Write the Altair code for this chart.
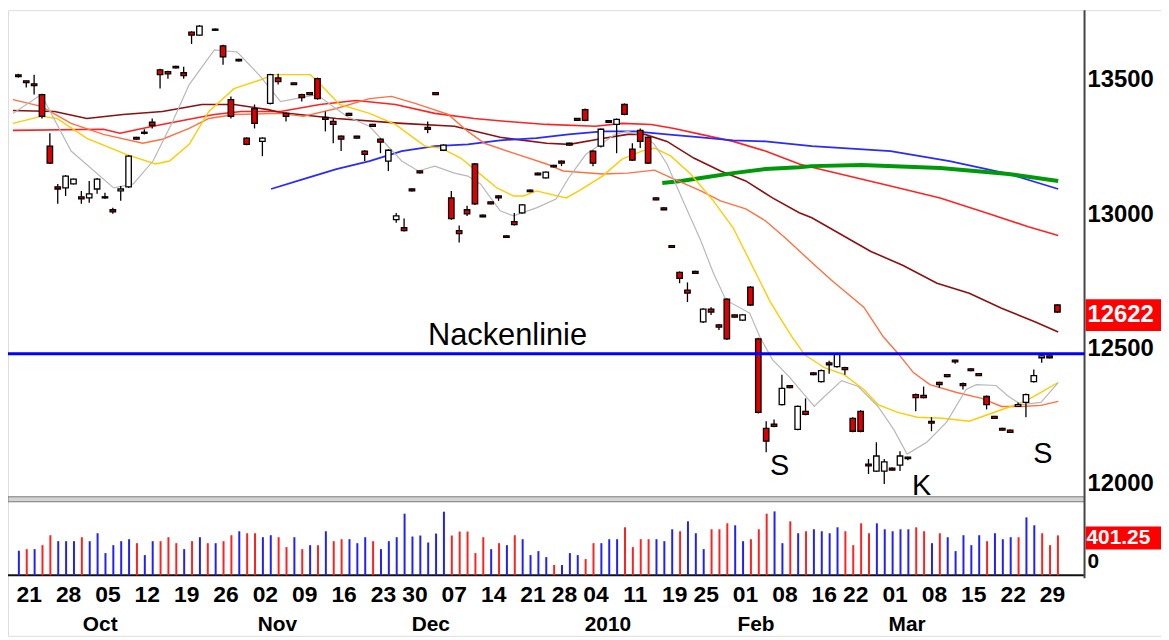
import altair as alt
import pandas as pd

# ---------------- data ----------------
opens = [13520,13498,13487,13447,13255,13104,13100,13115,13067,13063,13096,13067,13019,13089,13104,13288,13303,13344,13539,13532,
         13552,13528,13679,13668,None,13690,13628,13428,13578,13285,13395,13273,13414,13509,13377,13490,13447,13454,13506,13362,
         13347,13292,13377,13292,13237,13336,13281,13200,12982,12952,13096,13163,13325,13454,13240,13063,12941,13019,13189,12999,
         13048,13070,12922,12975,13007,13092,13155,13137,13184,13200,13266,13358,13391,13237,13255,13350,13336,13410,13244,13314,
         13288,13063,13026,12886,12786,12720,12790,12602,12650,12591,12687,12628,12609,12731,12539,12207,12222,12295,12365,12203,
         12270,12413,12380,12450,12436,12432,12244,12270,12074,12048,12048,12059,12070,12100,12332,12329,12233,12377,12406,12460,
         12373,12428,12410,12325,12251,12207,12200,12288,12303,12380,12469,12476,12665]
highs = [13524,13498,13521,13450,13303,13115,13148,13135,13089,13126,13137,13082,13026,13107,13222,13290,13318,13358,13543,13535,
         13554,13550,13682,13705,None,13692,13632,13440,13580,13288,13410,13288,13524,13524,13380,13492,13450,13456,13510,13384,
         13358,13295,13379,13294,13240,13338,13284,13244,13007,12986,13098,13165,13347,13456,13262,13089,12960,13034,13192,13001,
         13050,13072,12924,13007,13040,13094,13157,13161,13186,13202,13268,13360,13395,13240,13321,13352,13358,13414,13266,13321,
         13292,13065,13028,12888,12790,12749,12792,12653,12657,12594,12690,12630,12631,12735,12543,12233,12240,12406,12367,12292,
         12318,12415,12425,12458,12488,12436,12248,12274,12093,12155,12093,12061,12122,12101,12336,12362,12248,12380,12408,12462,
         12377,12430,12412,12329,12253,12209,12202,12303,12336,12425,12480,12478,12668]
lows = [13510,13473,13447,13358,13189,13041,13070,13113,13041,13045,13078,13060,13004,13052,13100,13279,13299,13321,13469,13506,
        13544,13506,13635,13666,None,13684,13558,13358,13570,13259,13321,13218,13410,13484,13347,13482,13421,13445,13428,13310,
        13266,13237,13368,13283,13200,13327,13229,13163,12971,12938,13087,13154,13303,13445,13237,12982,12897,12996,13037,12991,
        13039,13052,12914,12960,13004,13084,13147,13135,13176,13181,13257,13349,13348,13181,13250,13342,13229,13370,13200,13248,
        13189,13054,13017,12877,12746,12676,12781,12598,12628,12572,12535,12618,12606,12661,12262,12118,12211,12292,12356,12200,
        12255,12404,12377,12410,12432,12406,12192,12192,12037,12045,12000,12050,12048,12088,12270,12318,12196,12358,12397,12447,
        12351,12419,12401,12277,12242,12198,12190,12286,12248,12377,12450,12467,12635]
closes = [13514,13491,13480,13366,13192,13096,13144,13133,13059,13078,13133,13063,13011,13096,13218,13281,13307,13332,13521,13524,
          13546,13517,13668,13701,None,13686,13587,13366,13572,13262,13340,13285,13521,13495,13366,13484,13436,13447,13432,13355,
          13336,13281,13370,13285,13225,13329,13270,13240,12996,12941,13089,13156,13318,13447,13259,12986,12930,13004,13041,12993,
          13041,13063,12916,12964,13037,13086,13149,13159,13178,13192,13259,13351,13351,13192,13318,13344,13355,13373,13203,13273,
          13192,13056,13019,12879,12764,12709,12783,12650,12639,12583,12539,12620,12628,12665,12266,12159,12214,12355,12358,12288,
          12259,12406,12421,12443,12484,12425,12196,12196,12067,12104,12082,12052,12104,12094,12321,12321,12226,12369,12399,12454,
          12366,12421,12403,12295,12244,12200,12192,12295,12332,12403,12476,12469,12639]
volumes = [247,263,263,303,403,343,343,343,383,343,423,223,303,343,363,323,203,343,343,383,
           323,263,343,383,323,323,343,403,443,423,423,383,403,383,283,383,263,303,303,443,
           343,363,363,323,383,343,263,343,383,620,390,400,330,420,640,400,440,440,223,383,
           263,323,303,403,363,203,243,183,103,103,223,203,163,323,323,363,363,483,283,363,
           363,363,343,463,443,543,423,263,463,463,523,503,343,363,463,620,643,323,543,423,
           443,463,443,423,483,443,303,523,423,523,463,443,463,463,483,443,323,423,383,243,
           403,303,403,343,423,363,383,383,583,503,423,303,401.25]
vol_colors = list("BRBRRBBBRB" "BBBBBRBBRR" "RBRBRBRRBR" "RBBRRBRBRB" "RRBBBRBBBB"
                  "BBBBBRRRRR" "BRBRBBBBRB" "BBRRBBBRRR" "RBBBRBBBRR" "RBBRRRBBRB"
                  "RBBBBRRRRB" "BBBBRRBRBB" "BBBRBBBRBB" "RRR")

# moving averages (bar index, value)
gray_i = [-0.69,2.9,6.7,12.1,14.6,17.1,19.6,21.7,24.9,27.8,30.8,33.3,37.9,41.7,44.6,48.7,50.8,52.9,55.4,57.1,58.7,61.2,62.9,
          65.8,68.3,69.9,72.1,74.2,75.8,77.4,79.6,80.8,82.4,84.6,86.7,88.3,89.9,92.9,94.2,95.8,97.9,99.6,101.1,102.4,104.6,
          106.7,109.2,111.2,112.9,115.4,117.9,120.4,121.7,124.2,125.8,127.4,129.9,132.1]
gray_v = [13377,13447,13237,13100,13115,13200,13347,13484,13613,13605,13513,13421,13447,13366,13329,13200,13163,13181,13155,13144,
          13115,13015,12996,13026,13059,13137,13225,13266,13299,13310,13292,13262,13189,13041,12904,12783,12683,12635,12546,12462,
          12399,12340,12288,12325,12384,12362,12288,12203,12111,12155,12229,12351,12369,12366,12325,12295,12303,12377]
yel_i = [-0.69,2.9,4.9,8.7,13.7,17.4,19.2,21.7,24.2,27.4,30.8,32.4,37.1,38.3,40.8,44.6,47.9,49.6,51.7,53.7,56.2,57.9,60.8,62.9,
         64.2,65.8,69.6,71.2,74.2,76.7,79.2,80.8,82.9,85.4,88.3,90.8,93.7,95.4,96.7,98.3,99.9,102.4,104.9,107.4,109.2,111.7,
         114.2,117.4,120.8,123.3,125.8,127.9,129.9,132.1]
yel_v = [13340,13366,13358,13284,13225,13189,13200,13262,13384,13469,13502,13521,13521,13487,13410,13377,13336,13299,13255,13248,
         13211,13170,13100,13070,13070,13089,13063,13089,13144,13207,13237,13248,13218,13152,13052,12952,12783,12683,12620,12546,
         12480,12432,12406,12351,12295,12266,12248,12244,12233,12259,12285,12307,12340,12377]
org_i = [-0.69,2.9,6.7,10.8,15.8,18.3,21.7,24.2,27.4,33.3,36.2,40.4,44.6,47.4,50.4,54.6,57.1,59.2,62.9,67.1,69.2,74.2,77.4,
         80.8,83.3,86.7,89.2,92.4,94.9,97.4,100.8,103.3,107.4,109.9,111.7,113.7,115.8,119.2,122.4,124.9,127.4,129.9,132.1]
org_v = [13428,13403,13340,13299,13266,13281,13321,13358,13373,13377,13366,13395,13432,13440,13414,13373,13310,13266,13229,13189,
         13163,13152,13155,13166,13133,13089,13052,13022,12978,12915,12823,12757,12657,12546,12487,12414,12369,12340,12318,12288,
         12288,12292,12307]
red_i = [-0.69,10.8,12.9,17.1,21.7,24.9,28.3,33.3,38.3,42.9,47.9,52.9,57.9,62.1,67.1,73.3,76.7,80.4,83.3,86.7,90.8,94.9,99.2,
         100.8,110.8,117.1,123.3,128.3,132.1]
red_v = [13314,13318,13303,13329,13355,13373,13384,13384,13410,13425,13410,13377,13358,13347,13336,13329,13340,13336,13321,13299,
         13273,13237,13189,13177,13107,13063,13004,12956,12923]
brn_i = [-0.69,4.6,8.7,13.3,18.3,23.3,27.4,31.7,33.3,40.4,48.7,55.4,61.2,67.1,70.0,74.2,77.4,79.6,82.4,85.8,89.2,92.4,95.8,
         99.2,100.8,108.3,112.4,116.7,120.8,124.9,129.2,132.1]
brn_v = [13388,13384,13358,13373,13384,13410,13410,13391,13380,13358,13340,13329,13288,13266,13262,13284,13299,13299,13273,13211,
         13163,13126,13063,13008,12989,12864,12812,12746,12709,12653,12602,12565]
blu_i = [32.1,36.2,40.4,44.6,48.7,52.9,57.1,61.2,65.8,69.9,74.2,78.3,82.4,86.7,90.8,94.9,100.8,110.8,118.3,125.8,132.1]
blu_v = [13096,13133,13170,13200,13237,13255,13262,13277,13285,13299,13310,13310,13299,13288,13277,13273,13255,13237,13200,13152,
         13096]
grn_i = [81.8,84.2,86.7,90.8,94.9,99.2,100.8,107.1,117.1,125.8,132.1]
grn_v = [13118,13126,13137,13155,13170,13177,13181,13185,13174,13152,13126]

neckline = 12484
price_ticks = [13500, 13000, 12500, 12000]
last_close = "12622"
last_volume = "401.25"
week_idx = [1,6,11,16,21,26,31,36,41,46,50,55,60,65,69,73,78,83,87,92,97,102,106,111,116,121,126,131]
week_lbl = ['21','28','05','12','19','26','02','09','16','23','30','07','14','21','28','04',
            '11','19','25','01','08','16','22','01','08','15','22','29']
month_idx = [10.4, 32.9, 52.4, 74.9, 93.7, 112.9]
month_lbl = ['Oct', 'Nov', 'Dec', '2010', 'Feb', 'Mar']

# ---------------- chart ----------------
NUMFONT = "Liberation Sans, Arial, sans-serif"
TXTFONT = "Liberation Sans, Arial, sans-serif"
PW = 1084
XS = alt.Scale(domain=[-0.6875, 134.8125], range=[0, PW])
PS = alt.Scale(domain=[11952.4, 13760.5], range=[490, 0])
VS = alt.Scale(domain=[0, 720], range=[569, 497])

one = pd.DataFrame({'a': [0]})
n = len(volumes)
cdf = pd.DataFrame({'i': list(range(n)), 'o': opens, 'h': highs, 'l': lows, 'c': closes})
cdf = cdf.dropna()
cdf['dir'] = ['down' if c < o else 'up' for o, c in zip(cdf['o'], cdf['c'])]
vdf = pd.DataFrame({'i': list(range(n)), 'v': volumes, 'col': vol_colors[:n]})

X = alt.X('i:Q', scale=XS, axis=None)

layers = []
# panel separator and frame
layers.append(alt.Chart(one).mark_rect(fill='#d4d4d4', stroke='#7a7a7a', strokeWidth=1).encode(
    x=alt.value(0), x2=alt.value(PW), y=alt.value(490), y2=alt.value(495)))
layers.append(alt.Chart(one).mark_rule(color='#111111', strokeWidth=2).encode(
    x=alt.value(0), x2=alt.value(PW), y=alt.value(569)))
layers.append(alt.Chart(one).mark_rule(color='#444444', strokeWidth=2).encode(
    x=alt.value(PW), y=alt.value(0), y2=alt.value(572)))

# moving averages
ma_specs = [
    (red_i, red_v, '#ff2222', 1.6),
    (brn_i, brn_v, '#8b1010', 1.6),
    (blu_i, blu_v, '#2a2aff', 1.8),
    (grn_i, grn_v, '#00990a', 4),
    (org_i, org_v, '#ff7040', 1.4),
    (yel_i, yel_v, '#ffcc00', 1.4),
    (gray_i, gray_v, '#b8b8b8', 1.2),
]
for ii, vv, colr, sw in ma_specs:
    mdf = pd.DataFrame({'i': ii, 'p': vv})
    layers.append(alt.Chart(mdf).mark_line(color=colr, strokeWidth=sw).encode(
        x=X, y=alt.Y('p:Q', scale=PS, axis=None)))

# candles
layers.append(alt.Chart(cdf).mark_rule(color='black', strokeWidth=1.3).encode(
    x=X, y=alt.Y('l:Q', scale=PS, axis=None), y2='h:Q'))
layers.append(alt.Chart(cdf).mark_bar(size=5.5, stroke='black', strokeWidth=1.3).encode(
    x=X, y=alt.Y('o:Q', scale=PS, axis=None), y2='c:Q',
    fill=alt.Fill('dir:N', scale=alt.Scale(domain=['up', 'down'], range=['#ffffff', '#dd0000']), legend=None)))

# neckline
layers.append(alt.Chart(pd.DataFrame({'p': [neckline]})).mark_rule(color='#0000ff', strokeWidth=3).encode(
    y=alt.Y('p:Q', scale=PS, axis=None), x=alt.value(0), x2=alt.value(PW)))

# volume
layers.append(alt.Chart(vdf).mark_bar(size=2, xOffset=0.5).encode(
    x=X, y=alt.Y('v:Q', scale=VS, axis=None),
    color=alt.Color('col:N', scale=alt.Scale(domain=['R', 'B'], range=['#ff2020', '#2020ff']), legend=None)))

# price labels
layers.append(alt.Chart(pd.DataFrame({'p': price_ticks, 't': [str(v) for v in price_ticks]})).mark_text(
    align='left', baseline='middle', font=NUMFONT, fontSize=24, fontWeight='bold', color='black').encode(
    x=alt.value(PW + 3), y=alt.Y('p:Q', scale=PS, axis=None), text='t:N'))
layers.append(alt.Chart(one).mark_rect(color='#ff0000').encode(
    x=alt.value(PW + 1), x2=alt.value(1161), y=alt.value(291), y2=alt.value(323)))
layers.append(alt.Chart(one).mark_text(align='left', baseline='middle', font=NUMFONT, fontSize=24,
                                       fontWeight='bold', color='white', text=last_close).encode(
    x=alt.value(PW + 3), y=alt.value(307)))
layers.append(alt.Chart(one).mark_rect(color='#ff0000').encode(
    x=alt.value(PW + 1), x2=alt.value(1161), y=alt.value(520), y2=alt.value(543)))
layers.append(alt.Chart(one).mark_text(align='left', baseline='middle', font=NUMFONT, fontSize=21,
                                       fontWeight='bold', color='white', text=last_volume).encode(
    x=alt.value(PW + 2), y=alt.value(532)))
layers.append(alt.Chart(one).mark_text(align='left', baseline='middle', font=NUMFONT, fontSize=21,
                                       fontWeight='bold', color='black', text='0').encode(
    x=alt.value(PW + 3), y=alt.value(556)))

# date labels
layers.append(alt.Chart(pd.DataFrame({'i': week_idx, 't': week_lbl})).mark_text(
    align='center', baseline='middle', font=NUMFONT, fontSize=23, fontWeight='bold', color='black', dx=3).encode(
    x=X, y=alt.value(589), text='t:N'))
layers.append(alt.Chart(pd.DataFrame({'i': month_idx, 't': month_lbl})).mark_text(
    align='center', baseline='middle', font=NUMFONT, fontSize=21, fontWeight='bold', color='black').encode(
    x=X, y=alt.value(619), text='t:N'))

# annotations
layers.append(alt.Chart(one).mark_text(align='center', baseline='alphabetic', font=TXTFONT, fontSize=31,
                                       color='black', text='Nackenlinie').encode(
    x=alt.value(503), y=alt.value(337)))
ann_x = [777, 920, 1042]
ann_y = [459, 479, 447]
ann_t = ['S', 'K', 'S']
for ax_, ay_, at_ in zip(ann_x, ann_y, ann_t):
    layers.append(alt.Chart(one).mark_text(align='center', baseline='middle', font=TXTFONT, fontSize=29,
                                           color='black', text=at_).encode(
        x=alt.value(ax_), y=alt.value(ay_)))

chart = alt.layer(*layers).resolve_scale(y='independent').properties(
    width=1161, height=630, padding=0, autosize=alt.AutoSizeParams(type='none')
).configure_view(stroke=None).configure(background='white')

chart.save("out.html", embed_options={"renderer": "svg", "actions": False})
